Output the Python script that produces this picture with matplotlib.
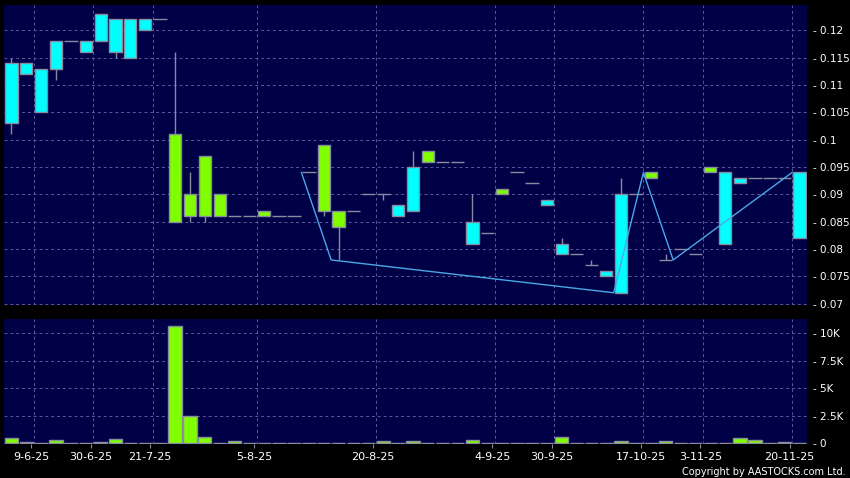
import numpy as np
import matplotlib
matplotlib.use("Agg")
from matplotlib import pyplot as plt

## Dades ------------------------------------------------------------

# OHLC, una espelma per sessio amb negociacio
opens = [0.103, 0.112, 0.105, 0.113, 0.118, 0.116, 0.118, 0.116, 0.115, 0.120,
         0.122, 0.101, 0.090, 0.097, 0.090, 0.086, 0.086, 0.087, 0.086, 0.086,
         0.094, 0.099, 0.087, 0.087, 0.090, 0.090, 0.086, 0.087, 0.098, 0.096,
         0.096, 0.081, 0.083, 0.091, 0.094, 0.092, 0.088, 0.079, 0.079, 0.077,
         0.075, 0.072, 0.090, 0.094, 0.078, 0.080, 0.079, 0.095, 0.081, 0.092,
         0.093, 0.093, 0.093, 0.082]
highs = [0.115, 0.114, 0.113, 0.118, 0.118, 0.118, 0.123, 0.122, 0.122, 0.122,
         0.122, 0.116, 0.094, 0.097, 0.090, 0.086, 0.086, 0.087, 0.086, 0.086,
         0.094, 0.099, 0.087, 0.087, 0.090, 0.090, 0.088, 0.098, 0.098, 0.096,
         0.096, 0.090, 0.083, 0.091, 0.094, 0.092, 0.089, 0.082, 0.079, 0.078,
         0.076, 0.093, 0.090, 0.094, 0.079, 0.080, 0.079, 0.095, 0.094, 0.093,
         0.093, 0.093, 0.093, 0.094]
lows = [0.101, 0.112, 0.105, 0.111, 0.118, 0.116, 0.118, 0.115, 0.115, 0.120,
        0.122, 0.085, 0.085, 0.085, 0.086, 0.086, 0.086, 0.086, 0.086, 0.086,
        0.094, 0.086, 0.078, 0.087, 0.090, 0.089, 0.086, 0.087, 0.096, 0.096,
        0.096, 0.081, 0.083, 0.090, 0.094, 0.092, 0.088, 0.079, 0.079, 0.077,
        0.075, 0.072, 0.090, 0.093, 0.078, 0.080, 0.079, 0.094, 0.081, 0.092,
        0.093, 0.093, 0.093, 0.082]
closes = [0.114, 0.114, 0.113, 0.118, 0.118, 0.118, 0.123, 0.122, 0.122, 0.122,
          0.122, 0.085, 0.086, 0.086, 0.086, 0.086, 0.086, 0.086, 0.086, 0.086,
          0.094, 0.087, 0.084, 0.087, 0.090, 0.090, 0.088, 0.095, 0.096, 0.096,
          0.096, 0.085, 0.083, 0.090, 0.094, 0.092, 0.089, 0.081, 0.079, 0.077,
          0.076, 0.090, 0.090, 0.093, 0.078, 0.080, 0.079, 0.094, 0.094, 0.093,
          0.093, 0.093, 0.093, 0.094]
volumes = [480, 90, 20, 300, 0, 0, 120, 360, 0, 0,
           0, 10700, 2500, 550, 30, 200, 30, 30, 0, 30,
           60, 40, 0, 0, 0, 180, 0, 180, 0, 0,
           0, 300, 0, 0, 0, 60, 20, 575, 20, 0,
           50, 210, 0, 30, 240, 0, 0, 0, 30, 480,
           300, 30, 120, 0]

# linia zig-zag (posicio sobre l'eix d'index, preu)
zz_x = [19.5, 21.5, 40.5, 42.5, 44.5, 52.5]
zz_y = [0.094, 0.078, 0.072, 0.094, 0.078, 0.094]

# etiquetes de dates (index de l'espelma abans de la linia de graella)
date_idx = [1, 5, 9, 16, 24, 32, 36, 42, 46, 52]
date_labels = ["9-6-25", "30-6-25", "21-7-25", "5-8-25", "20-8-25",
               "4-9-25", "30-9-25", "17-10-25", "3-11-25", "20-11-25"]

price_ticks = [0.07, 0.075, 0.08, 0.085, 0.09, 0.095, 0.1, 0.105, 0.11, 0.115, 0.12]
vol_ticks = [0, 2500, 5000, 7500, 10000]
vol_tick_labels = ["0", "2.5K", "5K", "7.5K", "10K"]

## Estil ------------------------------------------------------------
BG = "#000046"
UP = "#00ffff"
DOWN = "#80ff00"
EDGE = "#8a8aa0"
GRID = "#5a5a9c"
LINE = "#4aa8e8"

n = len(opens)
x = np.arange(n)
o = np.array(opens); c = np.array(closes)
h = np.array(highs); l = np.array(lows)

fig = plt.figure(figsize=(8.5, 4.78), dpi=100, facecolor="black")
ax1 = fig.add_axes([4/850, 1-305/478, 803/850, 300/478])
ax2 = fig.add_axes([4/850, 1-444/478, 803/850, 125/478])

grid_x = np.array(date_idx) + 0.5

for ax in (ax1, ax2):
    ax.set_facecolor(BG)
    for s in ax.spines.values():
        s.set_visible(False)
    ax.set_xlim(-0.5, n - 0.5)
    ax.set_xticks(grid_x, minor=True)
    ax.grid(which="minor", axis="x", color=GRID, lw=0.7, ls=(0, (3, 3)))
    ax.grid(which="major", axis="y", color=GRID, lw=0.7, ls=(0, (3, 3)))
    ax.set_axisbelow(True)
    ax.yaxis.tick_right()
    ax.tick_params(axis="y", length=0, pad=4, labelsize=7.5, labelcolor="white")
    ax.tick_params(axis="x", which="minor", length=0)

## Preu -------------------------------------------------------------
ax1.set_ylim(0.06976, 0.12463)
ax1.set_yticks(price_ticks)
ax1.set_yticklabels(["- %g" % p for p in price_ticks])
ax1.set_xticks([])

# metxes
ax1.vlines(x, l, h, color=EDGE, lw=1, zorder=2)

flat = o == c
up = (c > o)
down = (c < o)
ax1.bar(x[up], (c - o)[up], bottom=o[up], width=0.82, color=UP,
        edgecolor=EDGE, lw=1, zorder=3)
ax1.bar(x[down], (o - c)[down], bottom=c[down], width=0.82, color=DOWN,
        edgecolor=EDGE, lw=1, zorder=3)
ax1.hlines(c[flat], x[flat] - 0.45, x[flat] + 0.45, color=EDGE, lw=1, zorder=3)

ax1.plot(zz_x, zz_y, color=LINE, lw=1, zorder=4)

## Volum ------------------------------------------------------------
ax2.set_ylim(-60, 11300)
ax2.set_yticks(vol_ticks)
ax2.set_yticklabels(["- " + t for t in vol_tick_labels])
ax2.bar(x, volumes, width=0.9, color=DOWN, edgecolor=EDGE, lw=1, zorder=3)
ax2.set_xticks(grid_x - 0.17)
ax2.set_xticklabels(date_labels)
ax2.tick_params(axis="x", which="major", length=3, color=EDGE, pad=3,
                labelsize=8, labelcolor="white")

fig.text(846/850, 1-472/478, "Copyright by AASTOCKS.com Ltd.", ha="right",
         va="center", fontsize=7, color="white")

fig.savefig("out.png", dpi=100, facecolor="black")
